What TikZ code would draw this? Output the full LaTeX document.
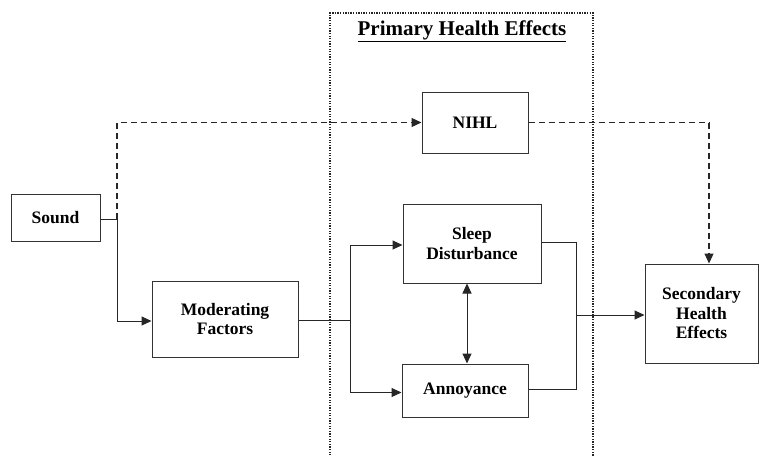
\documentclass[tikz,border=0pt]{standalone}
\usepackage{fontspec}
\setmainfont{Liberation Serif}
\usetikzlibrary{arrows.meta}
\begin{document}
\begin{tikzpicture}[x=1pt,y=-1pt,
  box/.style={draw=black!80,line width=1pt,align=center,inner sep=0pt,
    font=\fontsize{17.5}{19.5}\selectfont\bfseries},
  conn/.style={draw=black!85,line width=1pt},
  tip/.style={-{Triangle[length=10pt,width=9pt]}},
  dtip/.style={{Triangle[length=10pt,width=9pt]}-{Triangle[length=10pt,width=9pt]}},
  dashline/.style={dash pattern=on 6pt off 4pt,line width=1.2pt}]
\useasboundingbox (0,0) rectangle (759,456);
% frame
\draw[dash pattern=on 1.3pt off 1.3pt,line width=1.3pt,black!85] (330,458) -- (330,13) -- (593,13) -- (593,458);
\node[font=\fontsize{21}{24}\selectfont\bfseries] (title) at (462,31) {\underline{Primary Health Effects}};
% boxes
\node[box,minimum width=89pt,minimum height=47pt] (sound) at (55.5,217.5) {Sound};
\node[box,minimum width=146pt,minimum height=76pt] (mod) at (225,319) {Moderating\\Factors};
\node[box,minimum width=106pt,minimum height=61pt] (nihl) at (475,122.5) {NIHL};
\node[box,minimum width=138pt,minimum height=79pt] (sleep) at (472,243.5) {Sleep\\Disturbance};
\node[box,minimum width=126pt,minimum height=53pt] (annoy) at (465,390.5) {Annoyance};
\node[box,minimum width=113pt,minimum height=99pt] (sec) at (701.5,313.5) {Secondary\\Health\\Effects};
% junctions
\coordinate (j1) at (117,219);
\coordinate (j2) at (350,320);
\coordinate (j3) at (576,315);
\coordinate (j4) at (709,122.5);
% connectors
\draw[conn] (sound.east |- j1) -- (j1);
\draw[conn,tip] (j1) |- ([yshift=-2pt]mod.west);
\draw[conn,tip,dashline] (j1) |- (nihl.west);
\draw[conn,dashline] (nihl.east) -- (j4);
\draw[conn,tip,dashline] (j4) -- (j4 |- sec.north);
\draw[conn] (mod.east |- j2) -- (j2);
\draw[conn,tip] (j2) |- ([yshift=-1.5pt]sleep.west);
\draw[conn,tip] (j2) |- ([yshift=-2pt]annoy.west);
\draw[conn] ([yshift=1.5pt]sleep.east) -| (j3);
\draw[conn] ([yshift=1.5pt]annoy.east) -| (j3);
\draw[conn,tip] (j3) -- (sec.west |- j3);
\draw[conn,dtip] ([xshift=2pt]sleep.south -| annoy.north) -- ([xshift=2pt]annoy.north);
\end{tikzpicture}
\end{document}
